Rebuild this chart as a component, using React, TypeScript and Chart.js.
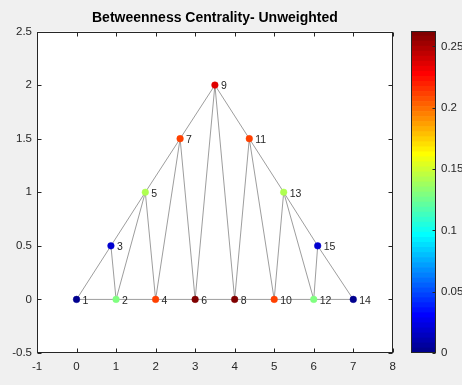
import React, { useEffect, useRef } from "react";
import { Chart, registerables } from "chart.js";

Chart.register(...registerables);

// ---- data ----
const nodeIds = [1, 2, 3, 4, 5, 6, 7, 8, 9, 10, 11, 12, 13, 14, 15];
const nodeX = [0, 1, 0.87, 2, 1.74, 3, 2.62, 4, 3.5, 5, 4.37, 6, 5.24, 7, 6.1];
const nodeY = [0, 0, 0.5, 0, 1, 0, 1.5, 0, 2, 0, 1.5, 0, 1, 0, 0.5];
const centrality = [0, 0.129, 0.018, 0.211, 0.1416, 0.26, 0.211, 0.26, 0.236, 0.211, 0.211, 0.129, 0.1416, 0, 0.018];
const edgeFrom = [1, 2, 4, 6, 8, 10, 12, 1, 3, 5, 7, 9, 11, 13, 15, 3, 5, 5, 7, 7, 9, 9, 11, 11, 13, 13, 15];
const edgeTo = [2, 4, 6, 8, 10, 12, 14, 3, 5, 7, 9, 11, 13, 15, 14, 2, 2, 4, 4, 6, 6, 8, 8, 10, 10, 12, 12];
const xTickRange = [-1, 8];
const yTickRange = [-0.5, 2.5];
const colorMax = 0.2626;
const titleText = "Betweenness Centrality- Unweighted";

// MATLAB jet(64)
function jet64(): string[] {
  const m = 64;
  const n = 16;
  const u: number[] = [];
  for (let i = 1; i <= n; i++) u.push(i / n);
  for (let i = 0; i < n - 1; i++) u.push(1);
  for (let i = n; i >= 1; i--) u.push(i / n);
  const r = new Array(m).fill(0);
  const g = new Array(m).fill(0);
  const b = new Array(m).fill(0);
  const gOff = Math.ceil(n / 2) - (m % 4 === 1 ? 1 : 0);
  for (let k = 0; k < u.length; k++) {
    const gi = gOff + k;
    const ri = gi + n;
    const bi = gi - n;
    if (gi >= 0 && gi < m) g[gi] = u[k];
    if (ri >= 0 && ri < m) r[ri] = u[k];
    if (bi >= 0 && bi < m) b[bi] = u[k];
  }
  const out: string[] = [];
  for (let i = 0; i < m; i++) {
    out.push(`rgb(${Math.round(r[i] * 255)},${Math.round(g[i] * 255)},${Math.round(b[i] * 255)})`);
  }
  return out;
}
const JET = jet64();
function colorFor(v: number): string {
  let idx = Math.floor((v / colorMax) * 64);
  if (idx < 0) idx = 0;
  if (idx > 63) idx = 63;
  return JET[idx];
}

const fmt = (v: any) => String(Number(Number(v).toFixed(4)));

const FONT = "'Liberation Sans', Arial, Helvetica, sans-serif";
const AXIS_COLOR = "#262626";

const boxPlugin = {
  id: "boxTicks",
  beforeDraw(chart: any) {
    const { ctx, chartArea: a } = chart;
    ctx.save();
    ctx.fillStyle = "#ffffff";
    ctx.fillRect(a.left, a.top, a.right - a.left, a.bottom - a.top);
    ctx.restore();
  },
  afterDraw(chart: any) {
    const { ctx, chartArea: a } = chart;
    const len = 4;
    ctx.save();
    ctx.strokeStyle = AXIS_COLOR;
    ctx.lineWidth = 1;
    const L = Math.round(a.left) + 0.5;
    const R = Math.round(a.right) - 0.5;
    const T = Math.round(a.top) + 0.5;
    const B = Math.round(a.bottom) - 0.5;
    ctx.strokeRect(L, T, R - L, B - T);
    ctx.beginPath();
    const xs = chart.scales.x;
    xs.ticks.forEach((t: any) => {
      const px = Math.round(xs.getPixelForValue(t.value)) + 0.5;
      ctx.moveTo(px, B);
      ctx.lineTo(px, B - len);
      ctx.moveTo(px, T);
      ctx.lineTo(px, T + len);
    });
    const ys = chart.scales.y;
    ys.ticks.forEach((t: any) => {
      const py = Math.round(ys.getPixelForValue(t.value)) + 0.5;
      ctx.moveTo(L, py);
      ctx.lineTo(L + len, py);
      ctx.moveTo(R, py);
      ctx.lineTo(R - len, py);
    });
    ctx.stroke();
    ctx.restore();
  },
};

const labelPlugin = {
  id: "nodeLabels",
  afterDatasetsDraw(chart: any) {
    const { ctx } = chart;
    const meta = chart.getDatasetMeta(0);
    ctx.save();
    ctx.fillStyle = AXIS_COLOR;
    ctx.font = `10.5px ${FONT}`;
    ctx.textAlign = "left";
    ctx.textBaseline = "middle";
    meta.data.forEach((el: any, i: number) => {
      ctx.fillText(String(nodeIds[i]), el.x + 6, el.y + 1.5);
    });
    ctx.restore();
  },
};

const cbPlugin = {
  id: "cbBox",
  afterDraw(chart: any) {
    const { ctx, chartArea: a } = chart;
    ctx.save();
    ctx.strokeStyle = AXIS_COLOR;
    ctx.lineWidth = 1;
    const L = Math.round(a.left) + 0.5;
    const R = Math.round(a.right) - 0.5;
    const T = Math.round(a.top) + 0.5;
    const B = Math.round(a.bottom) - 0.5;
    ctx.strokeRect(L, T, R - L, B - T);
    ctx.beginPath();
    const ys = chart.scales.y;
    ys.ticks.forEach((t: any) => {
      const py = Math.round(ys.getPixelForValue(t.value)) + 0.5;
      ctx.moveTo(R, py);
      ctx.lineTo(R - 3, py);
    });
    ctx.stroke();
    ctx.restore();
  },
};

export default function App() {
  const mainRef = useRef<HTMLCanvasElement>(null);
  const cbRef = useRef<HTMLCanvasElement>(null);

  useEffect(() => {
    const nodes = nodeIds.map((_, i) => ({ x: nodeX[i], y: nodeY[i] }));
    const edgeData: any[] = [];
    edgeFrom.forEach((a, k) => {
      const b = edgeTo[k];
      edgeData.push({ x: nodeX[a - 1], y: nodeY[a - 1] });
      edgeData.push({ x: nodeX[b - 1], y: nodeY[b - 1] });
      edgeData.push({ x: NaN, y: NaN });
    });
    const nodeColors = centrality.map(colorFor);

    const main = new Chart(mainRef.current as HTMLCanvasElement, {
      type: "scatter",
      data: {
        datasets: [
          {
            data: nodes,
            pointRadius: 3.3,
            pointBackgroundColor: nodeColors,
            pointBorderColor: nodeColors,
            pointBorderWidth: 0.5,
            showLine: false,
          },
          {
            data: edgeData,
            showLine: true,
            spanGaps: false,
            borderColor: "rgba(38,38,38,0.45)",
            borderWidth: 1,
            pointRadius: 0,
          },
        ],
      },
      options: {
        animation: false,
        responsive: false,
        events: [],
        layout: { padding: { left: 0, right: 2, top: 0, bottom: 0 } },
        plugins: {
          legend: { display: false },
          tooltip: { enabled: false },
          title: {
            display: true,
            text: titleText,
            fullSize: false,
            color: "#000000",
            font: { family: FONT, size: 14, weight: "bold" },
            padding: { top: 10, bottom: 4.7 },
          },
        },
        scales: {
          x: {
            type: "linear",
            min: xTickRange[0],
            max: xTickRange[1],
            grid: { display: false, drawTicks: false },
            border: { display: false },
            ticks: {
              stepSize: 1,
              color: AXIS_COLOR,
              font: { family: FONT, size: 11.5 },
              padding: 7,
              maxRotation: 0,
              callback: fmt,
            },
            afterFit: (s: any) => {
              s.height = 32;
            },
          },
          y: {
            type: "linear",
            min: yTickRange[0],
            max: yTickRange[1],
            grid: { display: false, drawTicks: false },
            border: { display: false },
            ticks: {
              stepSize: 0.5,
              color: AXIS_COLOR,
              font: { family: FONT, size: 11.5 },
              padding: 5,
              callback: fmt,
            },
            afterFit: (s: any) => {
              s.width = 37;
            },
          },
        },
      },
      plugins: [boxPlugin, labelPlugin],
    } as any);

    const bands = JET.map((c, i) => ({
      data: [[(i / 64) * colorMax, ((i + 1) / 64) * colorMax]],
      backgroundColor: c,
      borderWidth: 0,
      barPercentage: 1,
      categoryPercentage: 1,
      grouped: false,
    }));

    const cb = new Chart(cbRef.current as HTMLCanvasElement, {
      type: "bar",
      data: { labels: ["c"], datasets: bands as any },
      options: {
        animation: false,
        responsive: false,
        events: [],
        layout: { padding: { left: 11, right: 0, top: 31, bottom: 32 } },
        plugins: { legend: { display: false }, tooltip: { enabled: false } },
        scales: {
          x: { display: false },
          y: {
            position: "right",
            min: 0,
            max: colorMax,
            grid: { display: false, drawTicks: false },
            border: { display: false },
            ticks: {
              stepSize: 0.05,
              color: AXIS_COLOR,
              font: { family: FONT, size: 11.5 },
              padding: 5,
              callback: fmt,
            },
            afterBuildTicks: (s: any) => {
              s.ticks = s.ticks.filter((t: any) => Math.abs(t.value / 0.05 - Math.round(t.value / 0.05)) < 1e-6);
            },
            afterFit: (s: any) => {
              s.width = 26;
            },
          },
        },
      },
      plugins: [cbPlugin],
    } as any);

    return () => {
      main.destroy();
      cb.destroy();
    };
  }, []);

  return (
    <div
      style={{
        position: "fixed",
        left: 0,
        top: 0,
        width: 462,
        height: 385,
        background: "#f0f0f0",
        overflow: "hidden",
      }}
    >
      <canvas ref={mainRef} width={403} height={385} style={{ position: "absolute", left: 0, top: 0 }} />
      <canvas ref={cbRef} width={62} height={385} style={{ position: "absolute", left: 400, top: 0 }} />
    </div>
  );
}
